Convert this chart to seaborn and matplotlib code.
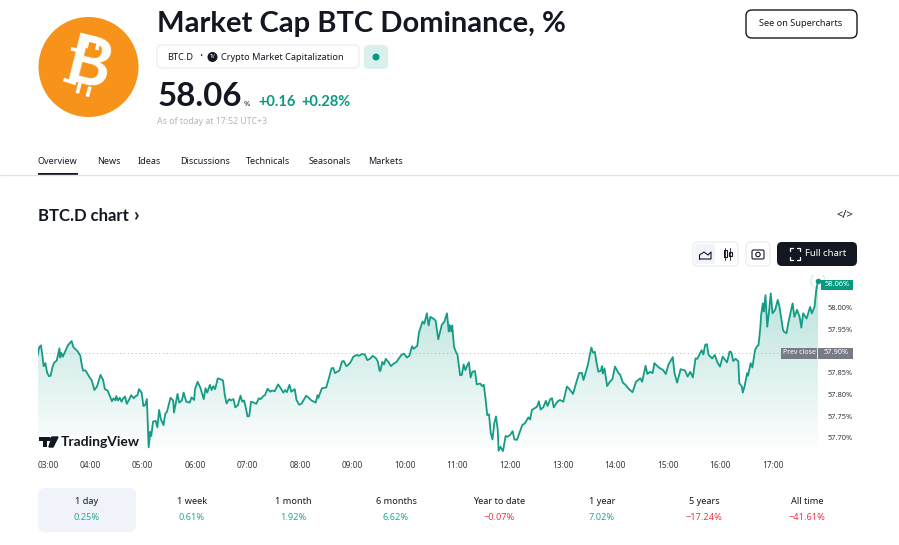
import numpy as np
import pandas as pd
import matplotlib
matplotlib.use('Agg')
import matplotlib.pyplot as plt
from matplotlib.patches import FancyBboxPatch, Circle, Rectangle, PathPatch
from matplotlib.path import Path
import seaborn as sns

# minutes after 03:00
minutes = [0,2,4,6,7,9,11,13,15,17,19,22,25,26,27,29,32,35,39,41,46,49,50,52,55,59,62,65,68,72,75,77,80,83,85,87,89,90,92,94,96,98,100,102,105,107,110,112,114,116,119,121,123,125,127,129,130,132,135,137,139,141,144,146,148,152,155,156,160,162,165,167,170,174,176,179,
    180,183,186,190,192,194,197,199,201,203,206,209,212,214,216,219,221,224,226,229,232,234,236,238,240,242,244,247,250,253,255,258,260,263,266,268,271,275,278,281,283,285,288,290,294,296,299,302,307,310,313,318,320,321,325,330,333,336,338,340,345,348,350,353,355,
    358,361,365,367,371,374,377,380,383,387,389,391,392,394,396,398,401,404,407,410,413,416,419,422,425,428,430,434,436,440,442,445,447,449,453,455,458,462,465,468,470,471,473,474,476,478,480,483,485,487,489,491,493,495,497,500,502,506,
    508,510,512,514,516,518,520,522,524,526,527,529,532,535,537,540,543,545,548,552,554,557,561,563,565,569,571,573,575,578,581,583,586,588,590,594,597,601,605,608,612,616,619,622,624,629,631,633,635,637,639,641,644,645,646,648,651,654,657,660,664,666,669,672,676,680,
    684,689,691,695,697,700,703,705,710,715,718,721,726,728,731,735,740,743,746,749,752,
    754,759,761,763,765,767,771,774,777,780,783,788,791,793,795,798,801,802,805,806,808,811,812,815,817,820,822,824,826,827,829,830,832,834,836,838,840,843,846,848,852,853,856,858,860,863,865,868,871,873,875,879,883,885,888,890,892]
dominance = [57.889,57.909,57.913,57.883,57.865,57.872,57.850,57.842,57.843,57.862,57.873,57.878,57.906,57.885,57.896,57.887,57.901,57.914,57.923,57.909,57.899,57.889,57.875,57.855,57.855,57.841,57.832,57.810,57.818,57.845,57.833,57.812,57.809,57.795,57.784,57.791,57.786,57.796,57.786,57.792,57.783,57.791,57.795,57.778,57.789,57.798,57.791,57.796,57.797,57.812,57.804,57.773,57.775,57.789,57.678,57.714,57.704,57.737,57.739,57.724,57.764,57.742,57.729,57.755,57.760,57.792,57.786,57.758,57.801,57.781,57.786,57.804,57.783,57.781,57.793,57.787,
    57.812,57.829,57.816,57.789,57.814,57.804,57.822,57.810,57.819,57.812,57.837,57.835,57.832,57.799,57.779,57.789,57.786,57.789,57.770,57.775,57.797,57.783,57.786,57.770,57.749,57.750,57.783,57.781,57.778,57.791,57.789,57.796,57.798,57.813,57.806,57.809,57.807,57.823,57.814,57.804,57.810,57.805,57.822,57.806,57.812,57.787,57.776,57.779,57.797,57.792,57.786,57.781,57.798,57.792,57.814,57.816,57.837,57.860,57.861,57.849,57.855,57.876,57.877,57.865,57.868,
    57.875,57.887,57.891,57.889,57.893,57.892,57.879,57.882,57.889,57.883,57.875,57.854,57.855,57.875,57.869,57.882,57.875,57.865,57.871,57.874,57.883,57.891,57.894,57.885,57.889,57.911,57.905,57.912,57.943,57.968,57.963,57.987,57.959,57.979,57.974,57.970,57.927,57.960,57.968,57.987,57.945,57.960,57.945,57.959,57.910,57.899,57.891,57.844,57.845,57.869,57.856,57.866,57.874,57.839,57.852,57.854,57.823,57.825,
    57.819,57.822,57.791,57.752,57.754,57.710,57.696,57.733,57.749,57.718,57.670,57.679,57.669,57.704,57.702,57.706,57.715,57.696,57.695,57.718,57.729,57.733,57.747,57.742,57.764,57.769,57.772,57.784,57.765,57.770,57.785,57.773,57.789,57.791,57.770,57.783,57.787,57.783,57.818,57.812,57.801,57.829,57.849,57.850,57.833,57.868,57.889,57.908,57.896,57.898,57.872,57.852,57.855,57.865,57.848,57.860,57.819,57.829,57.835,57.864,57.849,57.845,57.827,57.822,57.812,57.805,
    57.829,57.837,57.829,57.866,57.847,57.852,57.849,57.872,57.862,57.856,57.847,57.868,57.886,57.849,57.827,57.858,57.855,57.841,57.852,57.839,57.883,
    57.882,57.902,57.892,57.914,57.916,57.891,57.883,57.891,57.874,57.864,57.887,57.874,57.899,57.897,57.877,57.882,57.876,57.826,57.818,57.804,57.818,57.849,57.843,57.872,57.862,57.902,57.910,57.914,57.952,57.983,58.010,57.991,58.029,57.956,57.991,58.033,57.987,57.995,58.018,58.002,57.949,57.945,57.941,57.964,57.983,58.010,57.979,57.995,57.979,57.954,57.987,57.975,58.002,57.987,58.002,58.041,58.062]

hour_ticks = [0,60,120,180,240,300,360,420,480,540,600,660,720,780,840]
hour_labels = ['03:00','04:00','05:00','06:00','07:00','08:00','09:00','10:00','11:00','12:00','13:00','14:00','15:00','16:00','17:00']
price_ticks = [57.70,57.75,57.80,57.85,57.95,58.00]
prev_close = 57.895
last_price = 58.06

tabs = ['Overview','News','Ideas','Discussions','Technicals','Seasonals','Markets']
periods = ['1 day','1 week','1 month','6 months','Year to date','1 year','5 years','All time']
changes = ['0.25%','0.61%','1.92%','6.62%','−0.07%','7.02%','−17.24%','−41.61%']

GREEN = '#089981'
DARK = '#131722'
W, H = 899, 545
sans = ['Noto Sans', 'DejaVu Sans']
heavy = ['Lato', 'DejaVu Sans']

sns.set_theme(style='white')
plt.rcParams['font.family'] = sans

fig = plt.figure(figsize=(W/100, H/100), dpi=100, facecolor='white')

# page furniture, in pixels
ui = fig.add_axes([0, 0, 1, 1], zorder=1)
ui.set_xlim(0, W)
ui.set_ylim(H, 0)
ui.axis('off')

def txt(x, y, s, size, color=DARK, weight='normal', ha='left', **kw):
    if weight == 'bold':
        kw['family'] = heavy
    return ui.text(x, y+1, s, fontsize=size, color=color, fontweight=weight, ha=ha, va='center', **kw)

def box(x0, y0, x1, y1, r, fc, ec='none', lw=1):
    ui.add_patch(FancyBboxPatch((x0+r, y0+r), x1-x0-2*r, y1-y0-2*r, boxstyle='round,pad=%s,rounding_size=%s' % (r, r),
                                fc=fc, ec=ec, lw=lw))

# logo, no installed font has the bitcoin sign so the strokes go on a letter B
ui.add_patch(Circle((88.5, 67), 50, fc='#F7931A', ec='none'))
ui.text(88.5, 67, 'B', fontsize=48, color='white', fontweight='bold', family=heavy, ha='center', va='center', rotation=-14)
for xs, ys in [((88.3, 86), (38.3, 48)), ((99, 96.7), (40.7, 50)), ((77.3, 80), (93.3, 83)), ((87.3, 90), (96.7, 86.7)),
               ((71, 84), (48.7, 52)), ((63.5, 76), (79.5, 83.5))]:
    ui.plot(xs, ys, color='white', lw=2.6, solid_capstyle='butt')

# header
txt(157, 23, 'Market Cap BTC Dominance, %', 21, weight='bold')
box(157, 45, 359, 68, 5, 'white', '#eceef2')
txt(167, 56, 'BTC.D', 6.6)
txt(199, 55, '·', 9)
ui.add_patch(Circle((212.5, 57), 5, fc=DARK, ec='none'))
ui.text(212.5, 57, 'TV', fontsize=3.5, color='white', fontweight='bold', ha='center', va='center')
txt(221, 56, 'Crypto Market Capitalization', 6.6)
box(364, 45, 388, 69, 5, '#daf0ec')
ui.add_patch(Circle((376, 57), 3.5, fc=GREEN, ec='none'))
txt(158, 95, '58.06', 23.8, weight='bold')
txt(244, 103, '%', 5.5)
txt(258, 101, '+0.16', 10.5, GREEN, 'bold')
txt(301, 101, '+0.28%', 10.5, GREEN, 'bold')
txt(157, 120, 'As of today at 17:52 UTC+3', 6.3, '#b2b5be')
box(746, 10, 857, 38, 6, 'white', DARK)
txt(801, 23, 'See on Supercharts', 6.6, ha='center')

# tabs
tab_x = [38, 97, 138, 180, 246, 309, 368]
for x, t in zip(tab_x, tabs):
    txt(x, 160, t, 6.5)
ui.plot([0, W], [174.5, 174.5], color='#e0e3eb', lw=1)
ui.add_patch(Rectangle((38, 173), 40, 2, fc=DARK, ec='none'))

txt(38, 215, 'BTC.D chart', 12, weight='bold')
txt(134, 214, '›', 14, weight='bold')
txt(844.5, 214, '</>', 8, ha='center')

# toolbar
box(693, 242, 738, 266, 5, 'white', '#eceef2')
box(695, 244, 715, 264, 3, '#f0f3fa')
ui.plot([699.5, 699.5, 704, 708, 711, 711, 699.5], [259, 255, 252, 255, 252, 259, 259], color=DARK, lw=0.8)
ui.plot([725, 725], [248, 260], color=DARK, lw=0.6)
ui.plot([730, 730], [248, 260], color=DARK, lw=0.6)
ui.add_patch(Rectangle((723.5, 250), 3, 7, fc='white', ec=DARK, lw=0.8))
ui.add_patch(Rectangle((728.5, 252), 3, 4, fc='white', ec=DARK, lw=0.8))
box(746, 242, 770, 266, 5, 'white', '#eceef2')
box(752, 250, 764, 259, 1.5, 'white', DARK, 0.8)
ui.add_patch(Circle((758, 254.5), 2.2, fc='white', ec=DARK, lw=0.8))
box(777, 242, 857, 266, 5, DARK)
for sx, sy in [(-1, -1), (1, -1), (-1, 1), (1, 1)]:
    ui.plot([795+sx*2, 795+sx*5, 795+sx*5], [254+sy*6, 254+sy*6, 254+sy*3], color='white', lw=0.9)
txt(805, 253, 'Full chart', 6.9, 'white', ha='left')

# period row
box(38, 488, 136, 532, 7, '#f0f3fa')
period_x = [87, 192, 293, 396, 499, 602, 704, 807]
for x, p, c in zip(period_x, periods, changes):
    txt(x, 501, p, 6.6, ha='center')
    txt(x, 516, c, 6.6, '#f23645' if c.startswith('−') else '#22ab94', ha='center')

# chart
ax = fig.add_axes([37.5/W, 1-455/H, (825-37.5)/W, 180/H], zorder=2)
ax.patch.set_alpha(0)
df = pd.DataFrame({'minute': minutes, 'dominance': dominance})

ax.axhline(prev_close, color='#b2b5be', lw=0.7, ls=(0, (1, 3)))

grad = np.zeros((256, 2, 4))
grad[..., :3] = matplotlib.colors.to_rgb(GREEN)
grad[..., 3] = np.linspace(0.30, 0.0, 256)[:, None]
im = ax.imshow(grad, extent=[0, 900, 57.66, 58.0755], aspect='auto', origin='upper', zorder=1)
area = list(zip(minutes, dominance)) + [(minutes[-1], 57.66), (0, 57.66), (0, dominance[0])]
clip = PathPatch(Path(area), transform=ax.transData, fc='none', ec='none')
ax.add_patch(clip)
im.set_clip_path(clip)

sns.lineplot(data=df, x='minute', y='dominance', estimator=None, errorbar=None, color='#149c84', lw=1.3, ax=ax, zorder=3)
ax.scatter([minutes[-1]], [dominance[-1]], s=9, color=GREEN, zorder=4)
ax.scatter([minutes[-1]], [dominance[-1]], s=110, facecolor='none', edgecolor='#cfeae5', lw=0.8, zorder=2)
ax.set_xlim(0, 900)
ax.set_ylim(57.660, 58.0755)

ax.set_xlabel('')
ax.set_ylabel('')
sns.despine(ax=ax, left=True, bottom=True, right=True, top=True)
ax.set_xticks(hour_ticks)
ax.set_xticklabels(hour_labels, fontsize=6, color='#333742')
ax.get_xticklabels()[0].set_ha('left')
ax.yaxis.tick_right()
ax.set_yticks(price_ticks)
ax.set_yticklabels(['%.2f%%' % p for p in price_ticks], fontsize=5.4, color='#333742')
ax.tick_params(axis='both', length=0, pad=2)
ax.tick_params(axis='x', pad=4)

# price tags on the scale
ui2 = fig.add_axes([0, 0, 1, 1], zorder=3)
ui2.set_xlim(0, W)
ui2.set_ylim(H, 0)
ui2.axis('off')
ui2.add_patch(Rectangle((821, 280), 32, 10, fc=GREEN, ec='none'))
ui2.text(837, 285, '%.2f%%' % last_price, fontsize=5.4, color='white', ha='center', va='center')
ui2.add_patch(Rectangle((781, 348), 35.5, 10.5, fc='#787b86', ec='none'))
ui2.add_patch(Rectangle((817.5, 348), 35.5, 10.5, fc='#787b86', ec='none'))
ui2.text(799, 353, 'Prev close', fontsize=5, color='white', ha='center', va='center')
ui2.text(836, 353, '57.90%', fontsize=5.4, color='white', ha='center', va='center')

# watermark
ui2.text(61, 442, 'TradingView', fontsize=10, color=DARK, fontweight='bold', family=heavy, ha='left', va='center')
ui2.add_patch(Rectangle((39, 437), 11, 4, fc=DARK, ec='none'))
ui2.add_patch(Rectangle((43, 437), 4, 10, fc=DARK, ec='none'))
ui2.add_patch(Circle((51.5, 439), 1.8, fc=DARK, ec='none'))
ui2.fill([52, 58, 53, 49], [437, 437, 447, 447], color=DARK)

fig.savefig('out.png', dpi=100)
